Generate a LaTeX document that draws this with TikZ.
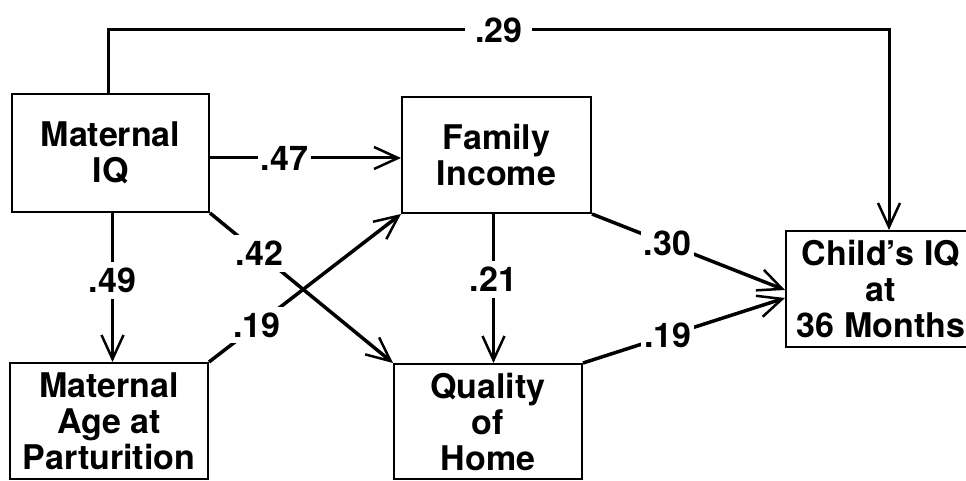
\documentclass[tikz,border=0pt]{standalone}
\usepackage{fontspec}
\setmainfont{TeX Gyre Heros}
\usetikzlibrary{arrows.meta}
\begin{document}
\begin{tikzpicture}[x=1pt,y=-1pt,
  txt/.style={font=\fontsize{34}{36}\selectfont\bfseries},
  box/.style={txt,draw,line width=2pt,inner sep=0pt,align=center},
  lbl/.style={txt,fill=white,inner xsep=3pt,inner ysep=6pt},
  arr/.style={line width=3pt,-{Straight Barb[length=24pt,width=22pt,line width=2.5pt]}}]
\useasboundingbox (0,0) rectangle (966,481);
\node[box,minimum width=197pt,minimum height=118pt] (mq) at (110.5,153) {Maternal\\IQ};
\node[box,minimum width=189pt,minimum height=116pt] (fi) at (496.5,155) {Family\\Income};
\node[box,minimum width=198pt,minimum height=116pt] (ma) at (109,421) {Maternal\\Age at\\Parturition};
\node[box,minimum width=188pt,minimum height=115pt] (qh) at (488,421.5) {Quality\\of\\Home};
\node[box,minimum width=190pt,minimum height=116pt] (child) at (881,289) {Child's IQ\\at\\36 Months};
\coordinate (cn) at ([xshift=8pt]child.north);
\coordinate (mn) at ([xshift=-2pt]mq.north);
\draw[arr] (mn) -- (mn |- 0,30) -- node[lbl,inner xsep=10pt]{.29} (cn |- 0,30) -- (cn);
\coordinate (a) at ([yshift=-5pt]mq.east);
\draw[arr] (a) -- node[lbl,pos=0.39]{.47} (a -| fi.west);
\coordinate (ms) at ([xshift=2pt]mq.south);
\draw[arr] (ms) -- node[lbl,pos=0.45]{.49} (ms |- ma.north);
\coordinate (fs) at ([xshift=-3pt]fi.south);
\draw[arr] (fs) -- node[lbl,pos=0.44]{.21} (fs |- qh.north);
\draw[arr,line width=3.5pt] (mq.south east) -- node[lbl,pos=0.27]{.42} (qh.north west);
\draw[arr,line width=3.5pt] (ma.north east) -- node[lbl,pos=0.25]{.19} (fi.south west);
\draw[arr,line width=3.5pt] (fi.south east) -- node[lbl,pos=0.39]{.30} ([yshift=-1pt]child.west);
\draw[arr,line width=3.5pt] (qh.north east) -- node[lbl,pos=0.42]{.19} ([yshift=-9pt]child.west);
\end{tikzpicture}
\end{document}
